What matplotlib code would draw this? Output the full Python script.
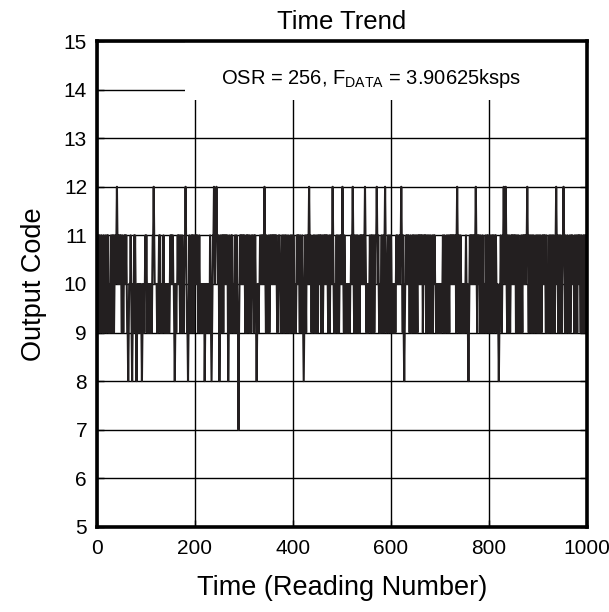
import matplotlib
matplotlib.use("Agg")
import matplotlib.pyplot as plt
from matplotlib.patches import Rectangle

plt.rcParams["font.family"] = ["Liberation Sans", "DejaVu Sans"]
plt.rcParams["mathtext.fontset"] = "custom"
plt.rcParams["mathtext.rm"] = "Liberation Sans"
plt.rcParams["mathtext.it"] = "Liberation Sans"

# Output codes per reading, one character per reading:
# '7'->7, '8'->8, '9'->9, '0'->10, '1'->11, '2'->12
readings_000_099 = ("1091010901" "0909109010" "9101909901" "0910190101" "1210101101"
                    "0910901010" "1099890001" "0989091010" "9890909909" "0989090901")
readings_100_199 = ("0109090990" "9090112100" "0009090101" "9090901090" "9909090990"
                    "1010110098" "9090010110" "9109100901" "1210998901" "0901910190")
readings_200_299 = ("1010110901" "0909099090" "8909009090" "9109890112" "1011211010"
                    "8910910191" "0101101089" "1090191009" "0910910997" "9010101101")
readings_300_399 = ("0109019101" "0910901110" "9101098900" "9001001011" "0121091099"
                    "0190101101" "0101101099" "0111099010" "9109111090" "1099019010")
readings_400_499 = ("9109099010" "1010910901" "0989010910" "1012101090" "9010910901"
                    "0910110190" "1901011010" "1090190110" "1210909901" "0910901011")
readings_500_599 = ("0210910909" "0909909001" "0121091091" "0910909101" "0110101210"
                    "9090900109" "1019019011" "1210109099" "0190109121" "0900190109")
readings_600_699 = ("1090990909" "0101000101" "1210919890" "0101101090" "1909101901"
                    "0910910101" "1010190101" "0190109109" "1090190101" "0090990909")
readings_700_799 = ("0909001091" "0990109109" "1010110101" "1019121091" "0910909099"
                    "0901090989" "0101011010" "1012109101" "1091090190" "0091091019")
readings_800_899 = ("0190109101" "0910109099" "8900109011" "2101210910" "9109010101"
                    "1010190109" "1090091091" "0101101121" "0910019019" "0109001091")
readings_900_999 = ("0910910901" "0110109109" "0901901091" "0910901210" "1901091090"
                    "1121091090" "1099019010" "1000910910" "9101010910" "9901901091")

code_of = {"7": 7, "8": 8, "9": 9, "0": 10, "1": 11, "2": 12}

x_ticks = [0, 200, 400, 600, 800, 1000]
y_ticks = [5, 6, 7, 8, 9, 10, 11, 12, 13, 14, 15]

blocks = [readings_000_099, readings_100_199, readings_200_299, readings_300_399,
          readings_400_499, readings_500_599, readings_600_699, readings_700_799,
          readings_800_899, readings_900_999]
codes = [code_of[c] for block in blocks for c in block]
reading_number = list(range(len(codes)))

fig = plt.figure(figsize=(6.09, 6.12), dpi=100)
ax = fig.add_axes([0.159, 0.139, 0.805, 0.794])

ax.plot(reading_number, codes, color="#231f20", linewidth=1.5, zorder=3)

ax.set_xlim(0, 1000)
ax.set_ylim(5, 15)
ax.set_xticks(x_ticks)
ax.set_yticks(y_ticks)
ax.grid(True, color="black", linewidth=1.0, zorder=1)
ax.set_axisbelow(True)

ax.tick_params(direction="in", length=5, width=1.0, top=True, right=True,
               labelsize=15, colors="black")
ax.tick_params(axis="x", pad=9)
ax.tick_params(axis="y", pad=7)
for side in ax.spines.values():
    side.set_linewidth(2.6)
    side.set_zorder(5)

# white panel behind the annotation
ax.add_patch(Rectangle((180, 13.79), 820, 1.21, facecolor="white",
                       edgecolor="none", zorder=2))
ax.text(253, 14.22, "OSR = 256, F$_{\\mathrm{DATA}}$ = 3.90625ksps",
        fontsize=14.5, ha="left", va="center", zorder=4)

ax.set_title("Time Trend", fontsize=18.5, pad=9)
ax.set_xlabel("Time (Reading Number)", fontsize=19.5, labelpad=12)
ax.set_ylabel("Output Code", fontsize=19.5, labelpad=12)

fig.savefig("out.png", dpi=100)
